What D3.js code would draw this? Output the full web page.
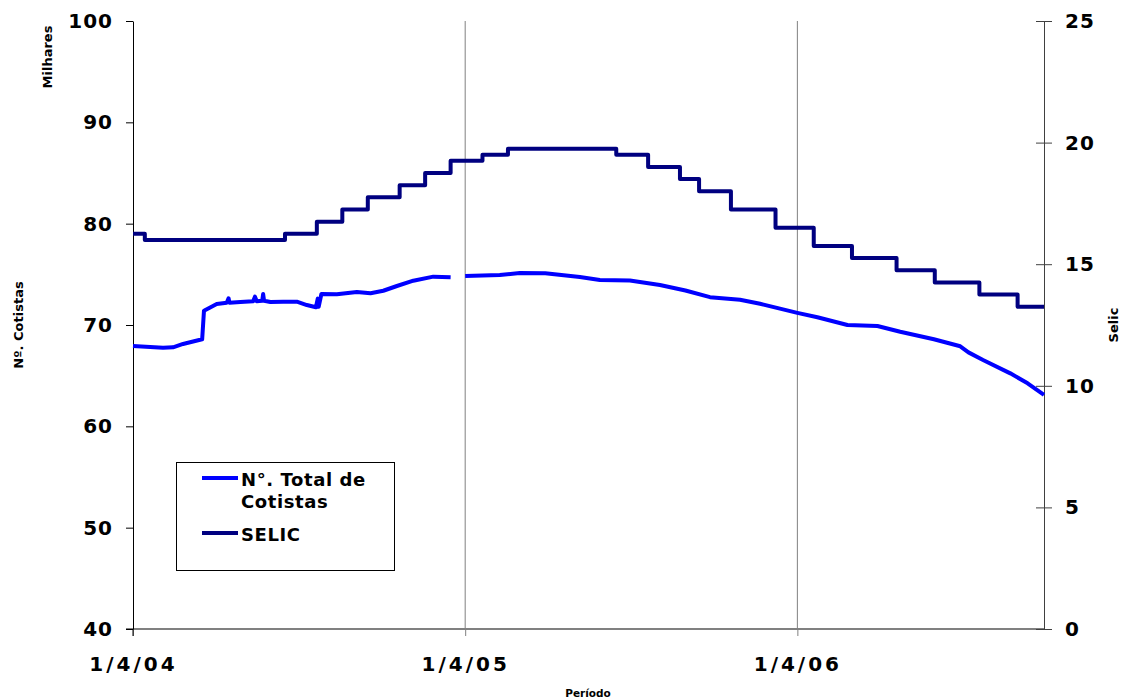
<!DOCTYPE html>
<html>
<head>
<meta charset="utf-8">
<script src="https://cdn.jsdelivr.net/npm/d3@7"></script>
<style>
	body { margin: 0; background: #fff; }
	svg text { font-family: "DejaVu Sans", Verdana, sans-serif; font-weight: bold; fill: #000; }
</style>
</head>
<body>
<div id="chart"></div>
<script>
// Nº total de cotistas (milhares) - leitura do gráfico
const cotistasDates = ["2004-04-01","2004-05-04","2004-05-15","2004-05-26","2004-06-16","2004-06-18","2004-07-02","2004-07-13","2004-07-15","2004-07-16","2004-07-28","2004-08-11","2004-08-13","2004-08-15","2004-08-21","2004-08-22","2004-08-23","2004-08-30","2004-09-13","2004-09-28","2004-10-09","2004-10-19","2004-10-21","2004-10-22","2004-10-25","2004-11-11","2004-12-03","2004-12-18","2005-01-01","2005-01-16","2005-02-03","2005-02-25","2005-03-16","2005-03-24","2005-04-01","2005-05-09","2005-05-31","2005-06-28","2005-08-05","2005-08-27","2005-09-29","2005-11-01","2005-11-29","2005-12-26","2006-01-28","2006-02-19","2006-04-01","2006-04-23","2006-05-26","2006-06-28","2006-07-23","2006-08-29","2006-09-27","2006-10-06","2006-10-22","2006-11-21","2006-12-10","2006-12-28"];
const cotistasValues = [67.93,67.76,67.8,68.13,68.59,71.41,72.07,72.2,72.64,72.2,72.27,72.35,72.8,72.35,72.4,73.06,72.4,72.27,72.3,72.3,71.97,71.75,72.6,71.8,73.06,73.03,73.26,73.13,73.38,73.85,74.37,74.77,74.71,null,74.84,74.94,75.13,75.1,74.74,74.45,74.4,73.95,73.4,72.75,72.5,72.1,71.2,70.76,70.0,69.9,69.34,68.59,67.9,67.3,66.55,65.23,64.25,63.1];

// SELIC (% a.a.) - datas de mudança
const selicDates = ["2004-04-01","2004-04-14","2004-09-15","2004-10-20","2004-11-17","2004-12-15","2005-01-19","2005-02-16","2005-03-16","2005-04-20","2005-05-18","2005-09-14","2005-10-19","2005-11-23","2005-12-14","2006-01-18","2006-03-08","2006-04-19","2006-05-31","2006-07-19","2006-08-30","2006-10-18","2006-11-29","2006-12-28"];
const selicValues = [16.25,16.0,16.25,16.75,17.25,17.75,18.25,18.75,19.25,19.5,19.75,19.5,19.0,18.5,18.0,17.25,16.5,15.75,15.25,14.75,14.25,13.75,13.25,13.25];

const xDomain = ["2004-04-01","2006-12-28"];
const xTickDates = ["2004-04-01","2005-04-01","2006-04-01"];
const xTickLabels = ["1/4/04","1/4/05","1/4/06"];
const leftTicks = [40,50,60,70,80,90,100];
const rightTicks = [0,5,10,15,20,25];

let width = 1121;
let height = 700;
let margin = ({top: 21, right: 77, bottom: 71, left: 133});

const parse = d3.timeParse("%Y-%m-%d");

const cotistas = cotistasDates.map((d, i) => ({date: parse(d), value: cotistasValues[i]}));
const selic = selicDates.map((d, i) => ({date: parse(d), value: selicValues[i]}));

const svg = d3.select("#chart").append("svg")
	.attr("width", width)
	.attr("height", height);

let x = d3.scaleTime()
	.domain(xDomain.map(parse))
	.range([margin.left, width - margin.right]);

let yLeft = d3.scaleLinear()
	.domain([40, 100])
	.range([height - margin.bottom, margin.top]);

let yRight = d3.scaleLinear()
	.domain([0, 25])
	.range([height - margin.bottom, margin.top]);

// linhas de grade verticais
svg.append("g")
	.selectAll("line")
	.data(xTickDates.slice(1).map(parse))
	.enter().append("line")
	.attr("x1", d => x(d)).attr("x2", d => x(d))
	.attr("y1", margin.top).attr("y2", height - margin.bottom)
	.attr("stroke", "#808080")
	.attr("stroke-width", 1);

// eixo x
const xAxis = svg.append("g")
	.attr("transform", `translate(0,${height - margin.bottom})`)
	.call(d3.axisBottom(x)
		.tickValues(xTickDates.map(parse))
		.tickFormat((d, i) => xTickLabels[i])
		.tickSize(7)
		.tickPadding(21));
xAxis.select(".domain").remove();
xAxis.selectAll(".tick line").attr("stroke", "#808080");
xAxis.selectAll("text").attr("font-size", 20).style("letter-spacing", "3px");
xAxis.append("line")
	.attr("x1", margin.left - 7).attr("x2", width - margin.right)
	.attr("stroke", "#808080").attr("stroke-width", 2);

// eixo esquerdo
const leftAxis = svg.append("g")
	.attr("transform", `translate(${margin.left},0)`)
	.call(d3.axisLeft(yLeft)
		.tickValues(leftTicks)
		.tickSize(7)
		.tickPadding(13)
		.tickSizeOuter(0));
leftAxis.select(".domain").attr("stroke", "#000");
leftAxis.selectAll("text").attr("font-size", 20).style("letter-spacing", "1px");
leftAxis.append("line")
	.attr("y1", height - margin.bottom).attr("y2", height - margin.bottom + 7)
	.attr("stroke", "#000");

// eixo direito (Selic)
const rightAxis = svg.append("g")
	.attr("transform", `translate(${width - margin.right},0)`)
	.call(d3.axisRight(yRight)
		.tickValues(rightTicks)
		.tickSize(8)
		.tickPadding(13)
		.tickSizeOuter(0));
rightAxis.select(".domain").attr("stroke", "#404040");
rightAxis.selectAll(".tick line").attr("x1", -8).attr("stroke", "#404040");
rightAxis.selectAll("text").attr("font-size", 20).style("letter-spacing", "1px");

// séries
const lineLeft = d3.line()
	.defined(d => d.value !== null)
	.x(d => x(d.date))
	.y(d => yLeft(d.value));

const lineRight = d3.line()
	.curve(d3.curveStepAfter)
	.x(d => x(d.date))
	.y(d => yRight(d.value));

svg.append("path")
	.datum(selic)
	.attr("fill", "none")
	.attr("stroke", "#000080")
	.attr("stroke-width", 4)
	.attr("stroke-linejoin", "round")
	.attr("d", lineRight);

svg.append("path")
	.datum(cotistas)
	.attr("fill", "none")
	.attr("stroke", "#0000ff")
	.attr("stroke-width", 4)
	.attr("stroke-linejoin", "round")
	.attr("d", lineLeft);

// títulos dos eixos
svg.append("text")
	.attr("transform", "translate(47,57) rotate(-90)")
	.attr("text-anchor", "middle").attr("dy", "0.35em")
	.attr("font-size", 13)
	.text("Milhares");

svg.append("text")
	.attr("transform", "translate(18,325) rotate(-90)")
	.attr("text-anchor", "middle").attr("dy", "0.35em")
	.attr("font-size", 13)
	.text("Nº. Cotistas");

svg.append("text")
	.attr("transform", "translate(1113,325) rotate(-90)")
	.attr("text-anchor", "middle").attr("dy", "0.35em")
	.attr("font-size", 13)
	.text("Selic");

svg.append("text")
	.attr("x", 588).attr("y", 697)
	.attr("text-anchor", "middle")
	.attr("font-size", 10.5)
	.text("Período");

// legenda
const legend = svg.append("g");
legend.append("rect")
	.attr("x", 176.5).attr("y", 462.5)
	.attr("width", 218).attr("height", 108)
	.attr("fill", "#fff")
	.attr("stroke", "#000");

const legendItems = [
	{lines: ["N°. Total de", "Cotistas"], color: "#0000ff", y: 478},
	{lines: ["SELIC"], color: "#000080", y: 533}
];

legendItems.forEach(item => {
	legend.append("line")
		.attr("x1", 202).attr("x2", 238)
		.attr("y1", item.y).attr("y2", item.y)
		.attr("stroke", item.color)
		.attr("stroke-width", 4);
	item.lines.forEach((t, i) => {
		legend.append("text")
			.attr("x", 241).attr("y", item.y + 8 + i * 22)
			.attr("font-size", 18)
			.style("letter-spacing", "0.6px")
			.text(t);
	});
});
</script>
</body>
</html>
